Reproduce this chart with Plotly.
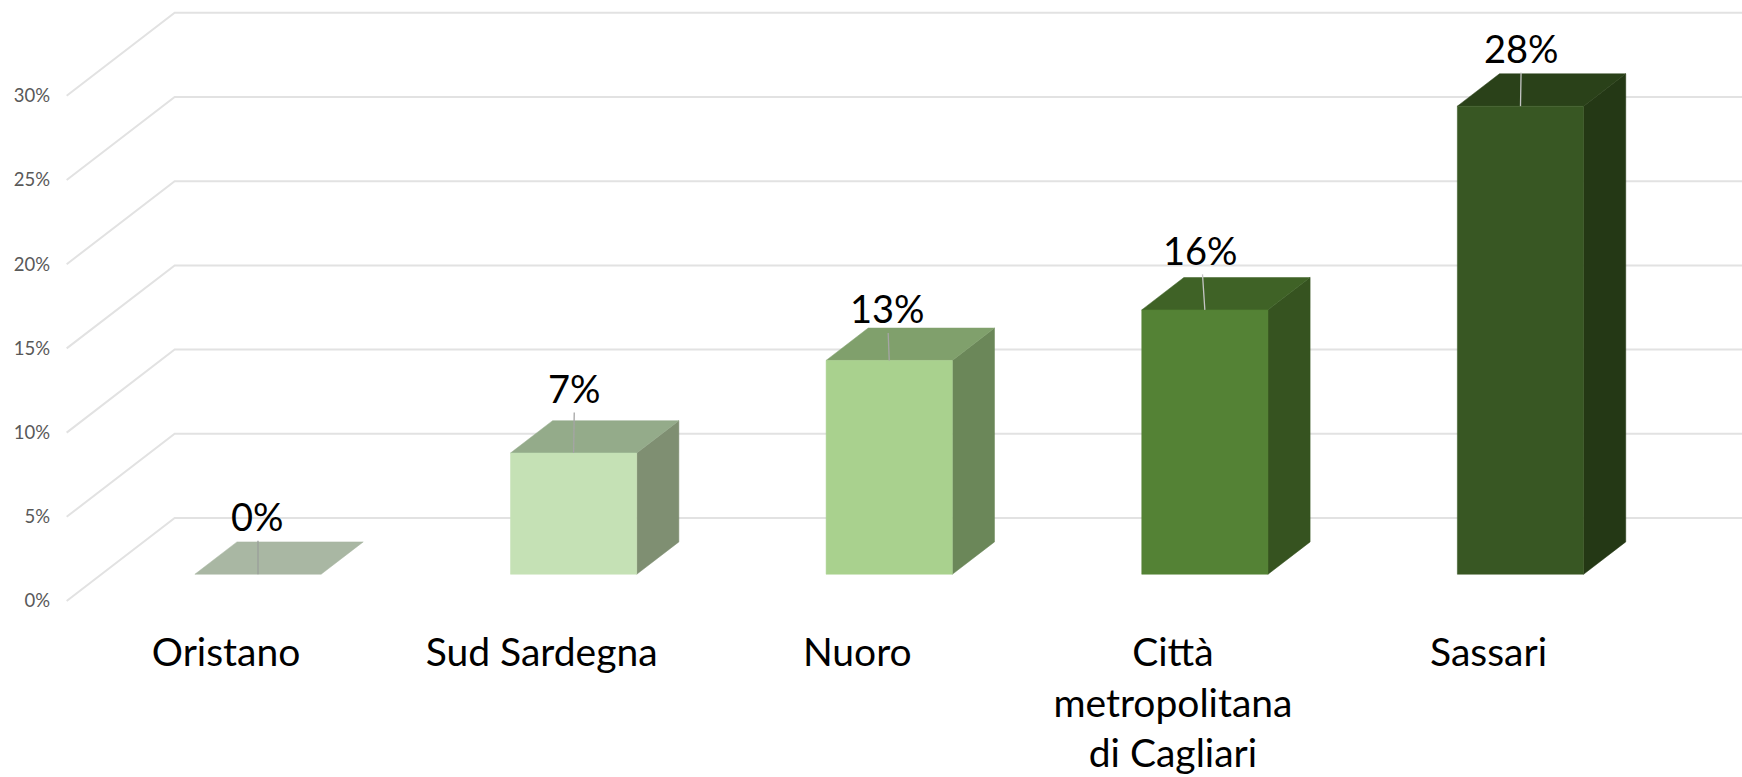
import plotly.graph_objects as go

# ---- data ----
categories = ["Oristano", "Sud Sardegna", "Nuoro", "Città<br>metropolitana<br>di Cagliari", "Sassari"]
values = [0.0, 7.2, 12.7, 15.7, 27.8]
y_ticks = [0, 5, 10, 15, 20, 25, 30]
y_tick_labels = ["0%", "5%", "10%", "15%", "20%", "25%", "30%"]

# ---- styles ----
front_colors = ["#C5DBB8", "#C5E1B5", "#A9D18E", "#548235", "#385723"]
top_colors = ["#A9B7A3", "#94AB8A", "#80A06C", "#3F6226", "#2A4119"]
side_colors = ["#A9B7A3", "#7F8F72", "#6B8759", "#365320", "#243815"]
grid_color = "#E2E2E2"
font = "Lato"

# oblique projection of the 3-D box, in axis units
DX, DY = 0.3422, 4.93          # floor depth front->back
F1, F2 = 0.322, 0.712          # front/back of the bars along the depth
HALF = 0.2                     # half bar width
WALL_X0 = -0.496               # left end of the floor diagonals
X_END = 4.812
LABEL_SHIFT = 0.009            # category labels sit a little right of the front-plane slot


def proj(x, y, f):
    return x + f * DX, y + f * DY


fig = go.Figure()


def poly(points, color):
    fig.add_trace(go.Scatter(
        x=[p[0] for p in points] + [points[0][0]],
        y=[p[1] for p in points] + [points[0][1]],
        mode="lines", fill="toself", fillcolor=color,
        line=dict(color=color, width=0.5), hoverinfo="skip", showlegend=False,
    ))


# wall grid lines with their floor diagonals
for t in y_ticks:
    bx, by = proj(WALL_X0, t, 1)
    fig.add_trace(go.Scatter(
        x=[WALL_X0, bx, X_END], y=[t, by, by], mode="lines",
        line=dict(color=grid_color, width=2), hoverinfo="skip", showlegend=False,
    ))

# bars
for i, v in enumerate(values):
    l, r = i - HALF, i + HALF
    a = proj(l, 0, F1); b = proj(r, 0, F1)
    c = proj(r, v, F1); d = proj(l, v, F1)
    e = proj(r, 0, F2); g = proj(r, v, F2); h = proj(l, v, F2)
    if v > 0:
        poly([b, e, g, c], side_colors[i])
    poly([d, c, g, h], top_colors[i])
    if v > 0:
        poly([a, b, c, d], front_colors[i])

# data labels with leader lines
label_ax = [0, 1, -2, -4, 1]
label_ay = [-58, -65, -52, -60, -58]
leader_colors = ["#9A9F9A", "#A5A5A5", "#A5A5A5", "#C4C4C4", "#C4C4C4"]
annotations = []
for i, v in enumerate(values):
    px, py = proj(i, v, F1)
    annotations.append(dict(
        x=px, y=py, xref="x", yref="y", text=f"{round(v)}%", showarrow=True,
        arrowhead=0, arrowwidth=1.3, arrowcolor=leader_colors[i],
        ax=label_ax[i], ay=label_ay[i], axref="pixel", ayref="pixel",
        font=dict(family=font, size=38, color="#000000"),
    ))

fig.update_layout(
    width=1742, height=777,
    margin=dict(l=51, r=0, t=0, b=151, pad=0),
    paper_bgcolor="#FFFFFF", plot_bgcolor="#FFFFFF",
    showlegend=False, annotations=annotations,
    xaxis=dict(
        range=[-0.5456, X_END], tickmode="array",
        tickvals=[i + LABEL_SHIFT for i in range(len(categories))],
        ticktext=categories, showgrid=False, zeroline=False, showline=False, ticks="",
        tickangle=0, automargin=False,
        tickfont=dict(family=font, size=39, color="#000000"),
    ),
    yaxis=dict(
        range=[-1.485, 35.69], tickmode="array", tickvals=y_ticks, ticktext=y_tick_labels,
        showgrid=False, zeroline=False, showline=False, ticks="", automargin=False,
        tickfont=dict(family=font, size=18.5, color="#595959"),
    ),
)

fig.write_html("out.html", post_script="document.body.style.margin='0';",
               config=dict(displayModeBar=False))
